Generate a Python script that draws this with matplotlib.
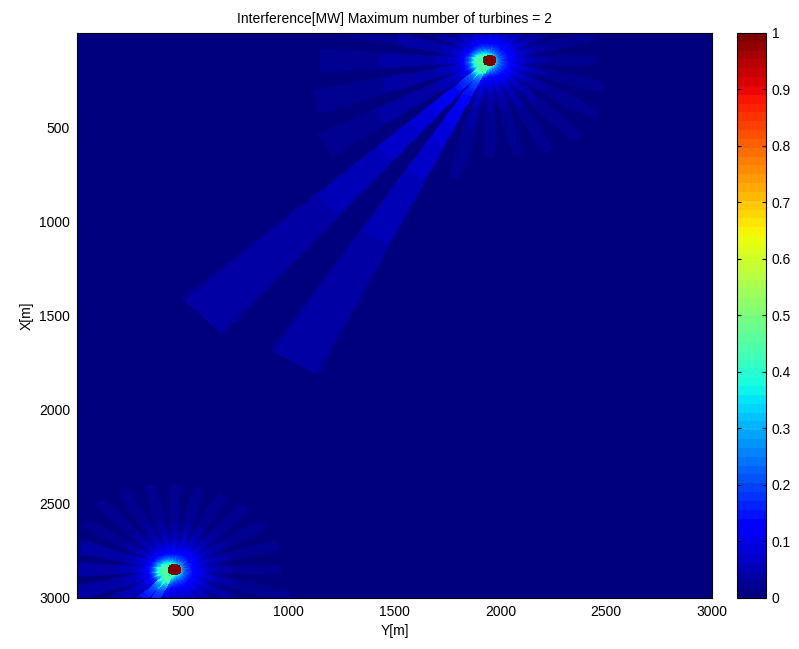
import numpy as np
import matplotlib
matplotlib.use('Agg')
import matplotlib.pyplot as plt

plt.rcParams['font.family'] = ['Liberation Sans', 'DejaVu Sans']

# site and turbines (positions in metres, Y across, X down)
site_size = 3000.0
cell = 5.0
turbine_y = [1950.0, 460.0]
turbine_x = [150.0, 2850.0]

# wind rose: wake direction (deg, measured from +Y toward +X), weight, wake length [m],
# and the fraction of the length over which the wake fades out (0 = hard edge)
wind_dir = [0, 15, 30, 45, 60, 75, 90, 105, 120, 135, 150, 165,
            180, 195, 210, 225, 240, 255, 270, 285, 300, 315, 330, 345]
wind_weight = [0.09, 0.10, 0.10, 0.10, 0.10, 0.09, 0.09, 0.11, 0.30, 0.30, 0.10, 0.09,
               0.09, 0.08, 0.09, 0.09, 0.09, 0.09, 0.09, 0.09, 0.09, 0.09, 0.09, 0.09]
wake_len = [620, 680, 720, 720, 680, 640, 640, 760, 1850, 1920, 900, 850,
            800, 760, 600, 620, 600, 560, 540, 540, 560, 580, 600, 620]
wake_fade = [1.0, 1.0, 1.0, 1.0, 1.0, 1.0, 1.0, 0.8, 0.0, 0.0, 0.0, 0.0,
             0.0, 0.0, 1.0, 1.0, 1.0, 1.0, 1.0, 1.0, 1.0, 1.0, 1.0, 1.0]

rotor_r = 10.0     # initial wake radius
k_wake = 0.07      # wake spreading
edge_soft = 0.6    # lateral softening of the wake edge
base_level = 0.012
halo_amp = 0.34
halo_width = 50.0
halo_dir = 170.0
halo_shift = 42.0
glow_amp = 0.12
glow_width = 130.0
wake_cap = 0.44    # interference never exceeds this outside the rotor
disc_r = 32.0

cbar_ticks = [0, 0.1, 0.2, 0.3, 0.4, 0.5, 0.6, 0.7, 0.8, 0.9, 1.0]
cbar_labels = ['0', '0.1', '0.2', '0.3', '0.4', '0.5', '0.6', '0.7', '0.8', '0.9', '1']
axis_ticks = [500, 1000, 1500, 2000, 2500, 3000]

# interference field
c = np.arange(cell / 2, site_size, cell)
Y, X = np.meshgrid(c, c)  # rows are X, columns are Y
field = np.full(Y.shape, base_level)

for ty, tx in zip(turbine_y, turbine_x):
    dy = Y - ty
    dx = X - tx
    for ang, w, L, fade in zip(wind_dir, wind_weight, wake_len, wake_fade):
        th = np.deg2rad(ang)
        s = dy * np.cos(th) + dx * np.sin(th)
        lat = np.abs(dy * np.sin(th) - dx * np.cos(th))
        r = rotor_r + k_wake * np.clip(s, 0, None)
        soft = edge_soft if fade > 0 else 0.2
        prof = np.clip((r - lat) / (soft * r), 0, 1)
        inside = (s > 0) & (s < L)
        taper = np.clip((L - s) / (fade * L), 0, 1) if fade > 0 else 1.0
        field += np.where(inside, w * (rotor_r / r) * taper * prof, 0.0)
    hth = np.deg2rad(halo_dir)
    hy = ty + halo_shift * np.cos(hth)
    hx = tx + halo_shift * np.sin(hth)
    field += halo_amp * np.exp(-((Y - hy) ** 2 + (X - hx) ** 2) / halo_width ** 2)
    field += glow_amp * np.exp(-(dy ** 2 + dx ** 2) / glow_width ** 2)

field = np.clip(field, 0, wake_cap)
for ty, tx in zip(turbine_y, turbine_x):
    field[(Y - ty) ** 2 + (X - tx) ** 2 <= disc_r ** 2] = 1.0

fig = plt.figure(figsize=(7.99, 6.49), dpi=100)
ax = fig.add_axes([0.0964, 0.0786, 0.7947, 0.8706])
im = ax.imshow(field, cmap=plt.get_cmap('jet', 64), vmin=0, vmax=1,
               extent=[0, site_size, site_size, 0], aspect='auto',
               interpolation='nearest')
ax.set_xticks(axis_ticks)
ax.set_yticks(axis_ticks)
ax.tick_params(length=0, labelsize=10, pad=5)
ax.set_xlabel('Y[m]', fontsize=10)
ax.set_ylabel('X[m]', fontsize=10)
ax.set_title('Interference[MW] Maximum number of turbines = 2', fontsize=10, pad=7)
for sp in ax.spines.values():
    sp.set_linewidth(0.8)

cax = fig.add_axes([737 / 799, 0.0786, 29 / 799, 0.8706])
cb = fig.colorbar(im, cax=cax, ticks=cbar_ticks)
cb.ax.set_yticklabels(cbar_labels)
cb.ax.tick_params(direction='in', left=True, right=True, length=3, labelsize=10, pad=4)
cb.outline.set_linewidth(0.8)

fig.savefig('out.png', dpi=100)
